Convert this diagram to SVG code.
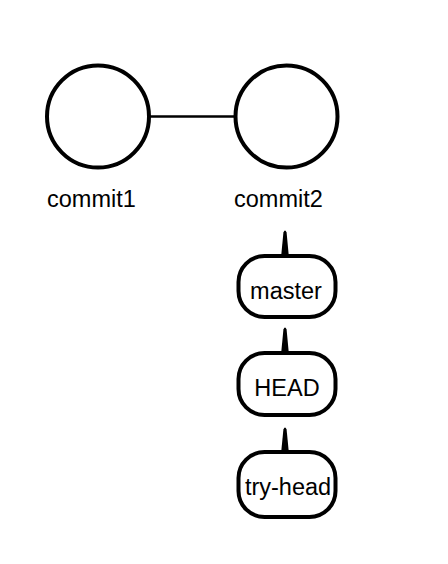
<svg xmlns="http://www.w3.org/2000/svg" width="448" height="564" viewBox="0 0 448 564">
<style>
.commit{fill:#fff;stroke:#000;stroke-width:4}
.ref{fill:#fff;stroke:#000;stroke-width:4}
.lbl{font-family:"Liberation Sans",Arial,sans-serif;font-size:23.5px;fill:#000}
.edge{stroke:#000;stroke-width:2.5;fill:none}
.spike{fill:#000}
</style>
<rect width="448" height="564" fill="#fff"/>
<g id="connectors">
<line class="edge" x1="150" y1="116.5" x2="236" y2="116.5"/>
<path class="spike" d="M281,258 L283.4,232.5 Q285,228.5 286.6,232.5 L289,258 Z"/>
<path class="spike" d="M281,355 L283.4,329.5 Q285,325.5 286.6,329.5 L289,355 Z"/>
<path class="spike" d="M281,454 L283.4,429.5 Q285,425.5 286.6,429.5 L289,454 Z"/>
</g>
<g id="commit1">
<circle class="commit" cx="98" cy="116.5" r="51"/>
<text class="lbl" x="47" y="207">commit1</text>
</g>
<g id="commit2">
<circle class="commit" cx="286.5" cy="116.5" r="51"/>
<text class="lbl" x="234" y="207">commit2</text>
</g>
<g id="master">
<rect class="ref" x="238.5" y="256" width="97" height="61" rx="26"/>
<text class="lbl" x="286" y="299" text-anchor="middle">master</text>
</g>
<g id="HEAD">
<rect class="ref" x="238.5" y="353" width="97" height="62" rx="26"/>
<text class="lbl" x="287" y="396" text-anchor="middle">HEAD</text>
</g>
<g id="try-head">
<rect class="ref" x="238.5" y="452" width="97" height="65" rx="26"/>
<text class="lbl" x="288" y="495" text-anchor="middle">try-head</text>
</g>
</svg>
